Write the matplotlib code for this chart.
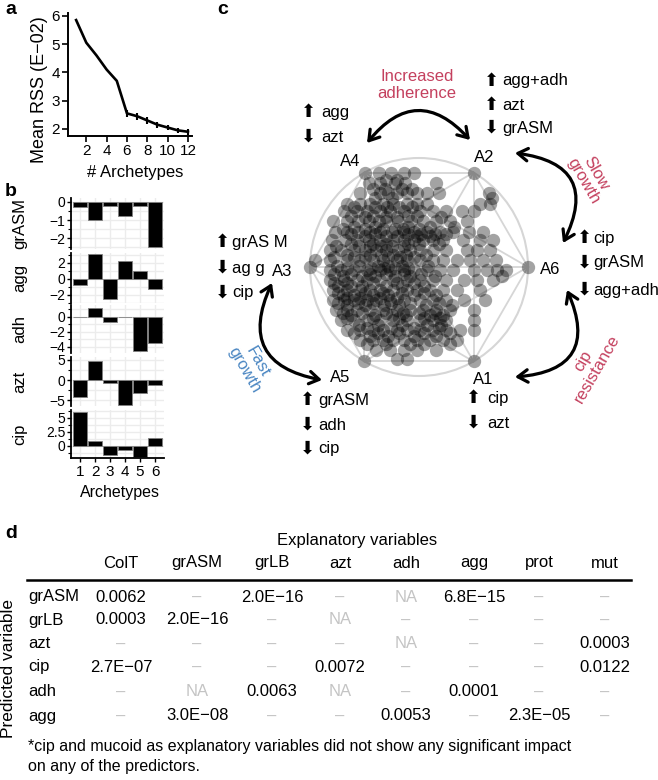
import numpy as np
import matplotlib
matplotlib.use("Agg")
import matplotlib.pyplot as plt
from matplotlib.patches import FancyArrowPatch, Circle
from matplotlib.lines import Line2D

plt.rcParams['font.family'] = ['Liberation Sans', 'DejaVu Sans']

# ---- data ----
# panel a
n_arch = [1, 2, 3, 4, 5, 6, 7, 8, 9, 10, 11, 12]
rss = [5.85, 5.05, 4.6, 4.1, 3.7, 2.55, 2.45, 2.3, 2.15, 2.05, 1.95, 1.9]
rss_err = [0, 0, 0, 0, 0, 0.12, 0.12, 0.12, 0.1, 0.1, 0.1, 0.1]

# panel b
arch_ids = [1, 2, 3, 4, 5, 6]
b_vars = ['grASM', 'agg', 'adh', 'azt', 'cip']
grASM_vals = [-0.3, -1.0, -0.2, -0.75, -0.2, -2.5]
agg_vals = [-0.8, 3.1, -2.5, 2.3, 1.0, -1.3]
adh_vals = [0.05, 1.2, -0.7, -0.03, -4.5, -3.5]
azt_vals = [-4.2, 4.8, -0.8, -6.2, -3.2, -1.2]
cip_vals = [6.1, 0.9, -1.6, -0.7, -1.9, 1.4]

# panel c: archetype vertices (in order around the circle) and projected samples
vertex_names = ['A6', 'A2', 'A4', 'A3', 'A5', 'A1']
scatter_rows = [
    (0.86, [-0.37, -0.26, -0.14, -0.05]),
    (0.80, [-0.30, -0.20]),
    (0.77, [-0.46, -0.36, -0.22, -0.13, 0.16]),
    (0.72, [-0.42, -0.31, -0.16, -0.06]),
    (0.68, [-0.54, -0.36, -0.28, -0.20, -0.11, -0.02, 0.07, 0.18, 0.64]),
    (0.63, [-0.40, -0.25, 0.67]),
    (0.58, [-0.66, -0.54, -0.45, -0.33, -0.24, -0.11, -0.02, 0.07, 0.56, 0.65]),
    (0.55, [-0.60, -0.40, -0.29, -0.18, -0.06]),
    (0.51, [-0.69, -0.57, -0.48, -0.36, -0.27, -0.14, 0.01, 0.13, 0.25, 0.39, 0.50]),
    (0.47, [-0.62, -0.42, -0.10, -0.02]),
    (0.46, [-0.50, -0.30, -0.20, 0.20]),
    (0.42, [-0.79, -0.66, -0.56, -0.46, -0.37, -0.30, -0.19, -0.07, 0.04, 0.16, 0.28, 0.44]),
    (0.37, [-0.60, -0.40, -0.10, 0.10, 0.32]),
    (0.35, [-0.70, -0.50, -0.33, -0.22, -0.15, 0.00]),
    (0.32, [-0.77, -0.66, -0.56, -0.45, -0.36, -0.25, -0.14, -0.05, 0.07, 0.19, 0.31, 0.46, 0.59]),
    (0.30, [-0.62, -0.40, -0.10, 0.02, 0.15, 0.25]),
    (0.28, [-0.50, -0.30, -0.20, -0.02, 0.10]),
    (0.25, [-0.80, -0.68, -0.57, -0.46, -0.36, -0.24, -0.14, -0.05, 0.04, 0.13, 0.22, 0.40, 0.56, 0.68]),
    (0.21, [-0.62, -0.42, -0.30, -0.10, 0.00, 0.18]),
    (0.19, [-0.76, -0.55, -0.45, -0.35, -0.25, -0.14]),
    (0.16, [-0.82, -0.72, -0.60, -0.50, -0.39, -0.30, -0.19, -0.08, 0.01, 0.13, 0.25, 0.44, 0.53, 0.65]),
    (0.11, [-0.66, -0.45, -0.35, -0.24, -0.12, 0.06]),
    (0.09, [-0.78, -0.60, -0.50, -0.28, -0.17, -0.05]),
    (0.06, [-0.95, -0.82, -0.66, -0.54, -0.42, -0.33, -0.20, -0.11, 0.01, 0.13, 0.22, 0.35, 0.47, 0.59, 0.71]),
    (0.01, [-0.75, -0.55, -0.38, -0.28, -0.16, 0.08]),
    (-0.01, [-0.66, -0.44, -0.32, -0.22, -0.10]),
    (-0.03, [-0.82, -0.72, -0.60, -0.48, -0.36, -0.27, -0.14, -0.05, 0.07, 0.19, 0.31, 0.50, 0.62, 0.72, 0.80]),
    (-0.06, [-0.78, -0.62, -0.45, -0.30, -0.14, 0.02]),
    (-0.08, [-0.70, -0.52, -0.40, -0.22, -0.08, 0.15, 0.76]),
    (-0.12, [-0.82, -0.69, -0.57, -0.48, -0.36, -0.24, -0.11, 0.01, 0.13, 0.25, 0.41, 0.53, 0.68]),
    (-0.15, [-0.78, -0.66, -0.42, -0.20, -0.05]),
    (-0.17, [-0.74, -0.62, -0.52, -0.30, -0.16, 0.05]),
    (-0.21, [-0.79, -0.66, -0.54, -0.45, -0.36, -0.24, -0.11, -0.02, 0.10, 0.22, 0.35, 0.56]),
    (-0.24, [-0.74, -0.50, -0.33, -0.16, 0.05]),
    (-0.26, [-0.70, -0.60, -0.42, -0.28, -0.05, 0.16]),
    (-0.28, [-0.66, -0.54, -0.36, -0.20]),
    (-0.30, [-0.79, -0.69, -0.60, -0.48, -0.39, -0.27, -0.14, 0.01, 0.13, 0.25, 0.41, 0.61]),
    (-0.33, [-0.74, -0.56, -0.42, -0.26, -0.08, 0.18]),
    (-0.35, [-0.66, -0.50, -0.32, -0.18, 0.06, 0.30]),
    (-0.39, [-0.76, -0.66, -0.57, -0.45, -0.33, -0.20, -0.08, 0.04, 0.16, 0.28, 0.50]),
    (-0.42, [-0.70, -0.52, -0.30, -0.15, 0.00, 0.15]),
    (-0.44, [-0.62, -0.40, -0.25, -0.12, 0.10, 0.22]),
    (-0.47, [-0.66, -0.42, -0.18, 0.05, 0.19]),
    (-0.49, [-0.72, -0.60, -0.48, -0.36, -0.24, -0.11, 0.01, 0.13, 0.25, 0.50]),
    (-0.53, [-0.55, -0.38, -0.16, 0.07, 0.20]),
    (-0.56, [-0.48, -0.26, -0.05, 0.18]),
    (-0.58, [-0.66, -0.54, -0.42, -0.33, -0.20, -0.11, 0.01, 0.13, 0.25, 0.38, 0.50]),
    (-0.61, [-0.60, -0.38, -0.18, 0.05, 0.28]),
    (-0.63, [-0.45, -0.28, -0.05, 0.16]),
    (-0.67, [-0.54, -0.42, -0.33, -0.24, -0.14, -0.02, 0.10, 0.22, 0.35]),
    (-0.71, [-0.48, -0.30, -0.08, 0.05, 0.28]),
    (-0.76, [-0.39, -0.27, -0.14, -0.02, 0.16]),
    (-0.84, [-0.20, -0.11]),
]

# panel d
col_names = ['ColT', 'grASM', 'grLB', 'azt', 'adh', 'agg', 'prot', 'mut']
row_names = ['grASM', 'grLB', 'azt', 'cip', 'adh', 'agg']
pvals = [
    ['0.0062', '–', '2.0E−16', '–', 'NA', '6.8E−15', '–', '–'],
    ['0.0003', '2.0E−16', '–', 'NA', '–', '–', '–', '–'],
    ['–', '–', '–', '–', 'NA', '–', '–', '0.0003'],
    ['2.7E−07', '–', '–', '0.0072', '–', '–', '–', '0.0122'],
    ['–', 'NA', '0.0063', 'NA', '–', '0.0001', '–', '–'],
    ['–', '3.0E−08', '–', '–', '0.0053', '–', '2.3E−05', '–'],
]

RED = '#c4405e'
BLUE = '#4a86c2'
W, H = 658, 780

fig = plt.figure(figsize=(W / 100, H / 100), dpi=100)


def box(x0, y0, x1, y1):
    return [x0 / W, 1 - y1 / H, (x1 - x0) / W, (y1 - y0) / H]


def ftext(x, y, s, **kw):
    kw.setdefault('va', 'center')
    return fig.text(x / W, 1 - y / H, s, **kw)


# panel letters
ftext(5, 10, 'a', fontsize=14, fontweight='bold', ha='left')
ftext(5, 192, 'b', fontsize=14, fontweight='bold', ha='left')
ftext(217, 10, 'c', fontsize=14, fontweight='bold', ha='left')
ftext(5, 533, 'd', fontsize=14, fontweight='bold', ha='left')

# ---- panel a ----
ax_a = fig.add_axes(box(68, 13, 192, 136))
ax_a.plot(n_arch, rss, color='black', lw=1.9)
ax_a.errorbar(n_arch, rss, yerr=rss_err, fmt='none', ecolor='black', elinewidth=1.5, capsize=0)
ax_a.set_xlim(0.2, 12.4)
ax_a.set_ylim(1.75, 6.1)
ax_a.set_xticks([2, 4, 6, 8, 10, 12])
ax_a.set_yticks([2, 3, 4, 5, 6])
for s in ['top', 'right']:
    ax_a.spines[s].set_visible(False)
for s in ['left', 'bottom']:
    ax_a.spines[s].set_linewidth(1.4)
ax_a.tick_params(direction='out', length=4, width=1.2, labelsize=11, pad=2)
ftext(40, 90, 'Mean RSS (E−02)', fontsize=13, rotation=90, ha='center')
ftext(135, 172, '# Archetypes', fontsize=12, ha='center')

# ---- panel b ----
b_values = [grASM_vals, agg_vals, adh_vals, azt_vals, cip_vals]
b_boxes = [(198, 249), (253, 303), (305, 353), (357, 406), (410, 458)]
b_ylims = [(-2.6, 0.22), (-3.0, 3.25), (-4.8, 1.6), (-6.4, 5.7), (-2.15, 6.4)]
b_ticks = [[-2, -1, 0], [-2, 0, 2], [-4, -2, 0], [-5, 0, 5], [0, 2.5, 5]]
b_ticklabels = [['−2', '−1', '0'], ['−2', '0', '2'], ['−4', '−2', '0'], ['−5', '0', '5'], ['0', '2.5', '5']]
b_minor = [0.5, 1, 1, 2.5, 1.25]
for i, name in enumerate(b_vars):
    y0, y1 = b_boxes[i]
    ax = fig.add_axes(box(71, y0, 164, y1))
    ax.set_axisbelow(True)
    ax.bar(arch_ids, b_values[i], width=0.9, color='black', edgecolor='#808080', linewidth=0.6)
    ax.set_xlim(0.4, 6.6)
    ax.set_ylim(*b_ylims[i])
    ax.set_yticks(b_ticks[i])
    ax.set_yticklabels(b_ticklabels[i])
    lo, hi = b_ylims[i]
    step = b_minor[i]
    ax.set_yticks(np.arange(np.ceil(lo / step) * step, hi, step), minor=True)
    ax.set_xticks(arch_ids)
    ax.grid(True, which='both', color='#ececec', lw=1.0)
    for s in ['top', 'right', 'bottom']:
        ax.spines[s].set_visible(False)
    ax.spines['left'].set_linewidth(1.3)
    ax.tick_params(axis='y', which='major', direction='out', length=3, width=1.0, labelsize=10, pad=1)
    ax.tick_params(axis='y', which='minor', direction='out', length=2, width=0.8)
    if i == len(b_vars) - 1:
        ax.spines['bottom'].set_visible(True)
        ax.spines['bottom'].set_linewidth(1.3)
        ax.tick_params(axis='x', direction='out', length=3, width=1.0, labelsize=11, pad=2)
    else:
        ax.tick_params(axis='x', length=0, labelbottom=False)
    ftext(20, (y0 + y1) / 2, name, fontsize=12, rotation=90, ha='center')
ftext(120, 493, 'Archetypes', fontsize=11.5, ha='center')

# ---- panel c ----
cx, cy, R = 419, 267, 109
ax_c = fig.add_axes(box(200, 0, 658, 470))
ax_c.set_xlim((200 - cx) / R, (658 - cx) / R)
ax_c.set_ylim((cy - 470) / R, cy / R)
ax_c.axis('off')


def U(px, py):
    return ((px - cx) / R, (cy - py) / R)


ang = np.deg2rad(np.arange(len(vertex_names)) * 60)
vx, vy = np.cos(ang), np.sin(ang)
ax_c.add_patch(Circle((0, 0), 1.0, fill=False, ec='#d6d6d6', lw=1.5, zorder=1))
for i in range(len(vx)):
    for j in range(i + 1, len(vx)):
        ax_c.plot([vx[i], vx[j]], [vy[i], vy[j]], color='#d6d6d6', lw=1.3, zorder=1)
px_list, py_list = [], []
for yy, xs in scatter_rows:
    for xx in xs:
        px_list.append(xx)
        py_list.append(yy)
ax_c.scatter(px_list, py_list, s=92, color='black', alpha=0.36, linewidths=0, zorder=2)
ax_c.scatter(vx, vy, s=92, color='black', alpha=0.36, linewidths=0, zorder=2)

label_pos = {'A4': (350, 162), 'A2': (484, 157), 'A6': (550, 270),
             'A1': (483, 379), 'A5': (340, 378), 'A3': (282, 271)}
for nm in vertex_names:
    ax_c.text(*U(*label_pos[nm]), nm, fontsize=12, ha='center', va='center')

changes = {
    'A4': [('up', 'agg', 308, 112, 321), ('down', 'azt', 308, 137, 321)],
    'A2': [('up', 'agg+adh', 491, 81, 502), ('up', 'azt', 491, 105, 502), ('down', 'grASM', 491, 128, 502)],
    'A6': [('up', 'cip', 584, 238, 593), ('down', 'grASM', 584, 263, 593), ('down', 'agg+adh', 584, 290, 593)],
    'A1': [('up', 'cip', 473, 398, 487), ('down', 'azt', 473, 423, 487)],
    'A5': [('up', 'grASM', 307, 400, 318), ('down', 'adh', 307, 425, 318), ('down', 'cip', 307, 449, 318)],
    'A3': [('up', 'grAS M', 222, 242, 232), ('down', 'ag g', 222, 268, 232), ('down', 'cip', 222, 293, 232)],
}
for nm, items in changes.items():
    for direc, txt, ax_x, yy, tx in items:
        glyph = '⬆' if direc == 'up' else '⬇'
        ax_c.text(*U(ax_x, yy), glyph, fontsize=13, family='DejaVu Sans',
                  ha='center', va='center')
        ax_c.text(*U(tx, yy), txt, fontsize=12, ha='left', va='center')


def curved(p0, p1, rad):
    a = FancyArrowPatch(U(*p0), U(*p1), connectionstyle=f'arc3,rad={rad}',
                        arrowstyle='<->,head_length=0.5,head_width=0.32', mutation_scale=14,
                        lw=2.3, color='black', shrinkA=0, shrinkB=0, zorder=3)
    ax_c.add_patch(a)


curved((367, 143), (470, 140), -0.58)
curved((515, 153), (563, 243), -0.7)
curved((567, 290), (515, 377), -0.7)
curved((272, 283), (322, 380), 0.64)

ax_c.text(*U(417, 85), 'Increased\nadherence', color=RED, fontsize=12, ha='center', va='center', linespacing=1.1)
ax_c.text(*U(590, 177), 'Slow\ngrowth', color=RED, fontsize=12, ha='center', va='center',
          rotation=-60, linespacing=1.0, rotation_mode='anchor')
ax_c.text(*U(590, 365), 'cip\nresistance', color=RED, fontsize=12, ha='center', va='center',
          rotation=60, linespacing=1.0, rotation_mode='anchor')
ax_c.text(*U(251, 366), 'Fast\ngrowth', color=BLUE, fontsize=12, ha='center', va='center',
          rotation=-60, linespacing=1.0, rotation_mode='anchor')

# ---- panel d ----
col_x = [121, 197, 272, 340, 406, 474, 539, 605]
row_y = [597, 620, 644, 667, 692, 716]
ftext(357, 541, 'Explanatory variables', fontsize=12, ha='center')
for x, c in zip(col_x, col_names):
    ftext(x, 563, c, fontsize=12, ha='center')
fig.add_artist(Line2D([27 / W, 631 / W], [1 - 580 / H, 1 - 580 / H], color='black', lw=1.8))
for y, rn, vals in zip(row_y, row_names, pvals):
    ftext(28, y, rn, fontsize=12, ha='left')
    for x, v in zip(col_x, vals):
        col = '#c4c4c4' if v in ('–', 'NA') else 'black'
        ftext(x, y, v, fontsize=12, ha='center', color=col)
ftext(9, 668, 'Predicted variable', fontsize=12.5, rotation=90, ha='center')
ftext(28, 747, '*cip and mucoid as explanatory variables did not show any significant impact',
      fontsize=11.5, ha='left')
ftext(28, 767, 'on any of the predictors.', fontsize=11.5, ha='left')

fig.savefig('out.png', dpi=100)
